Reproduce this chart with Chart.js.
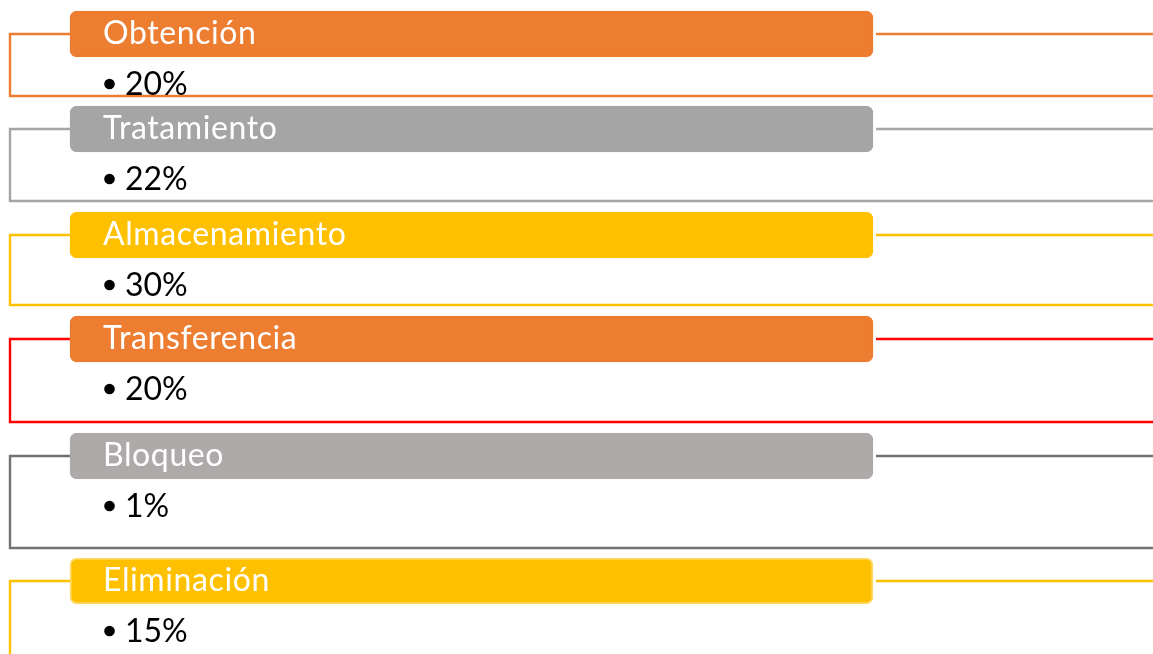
<!DOCTYPE html>
<html><head><meta charset="utf-8">
<script src="https://cdn.jsdelivr.net/npm/chart.js@4/dist/chart.umd.min.js"></script>
<style>html,body{margin:0;padding:0;background:#fff;overflow:hidden}#wrap{position:relative;width:1153px;height:654px}</style>
</head><body><div id="wrap"><canvas id="c"></canvas></div>
<script>
// Data
const categories = ["Obtención","Tratamiento","Almacenamiento","Transferencia","Bloqueo","Eliminación"];
const percentLabels = ["20%","22%","30%","20%","1%","15%"];
// Layout (diagram units = pixels of the 1153x654 stage)
const rowCenters = [34, 129, 235, 339, 456, 581];
const frameBottoms = [96, 201, 305, 422, 548, 680];
const boxSpan = [70, 873];
const boxFill = ["#ED7D31","#A5A5A5","#FFC000","#ED7D31","#AEAAAA","#FFC000"];
const boxBorder = ["#ED7D31","#A5A5A5","#FFC000","#ED7D31","#AEAAAA","#FFD966"];
const frameColors = ["#ED7D31","#A5A5A5","#FFC000","#FF0000","#767171","#FFC000"];

const framePlugin = {
  id:'frames',
  beforeDatasetsDraw(chart){
    const ctx = chart.ctx, xs = chart.scales.x, ys = chart.scales.y;
    ctx.save();
    ctx.lineWidth = 2.4;
    categories.forEach((c,i)=>{
      const yc = ys.getPixelForValue(rowCenters[i]);
      const yb = ys.getPixelForValue(frameBottoms[i]);
      const xl = xs.getPixelForValue(10), xr = xs.getPixelForValue(1153);
      const x0 = xs.getPixelForValue(boxSpan[0]), x1 = xs.getPixelForValue(boxSpan[1]);
      ctx.strokeStyle = frameColors[i];
      ctx.beginPath();
      ctx.moveTo(x0, yc); ctx.lineTo(xl, yc); ctx.lineTo(xl, yb); ctx.lineTo(xr+2, yb);
      ctx.moveTo(x1 + 3, yc); ctx.lineTo(xr+2, yc);
      ctx.stroke();
    });
    ctx.restore();
  },
  afterDatasetsDraw(chart){
    const ctx = chart.ctx, xs = chart.scales.x, ys = chart.scales.y;
    ctx.save();
    ctx.textBaseline = 'middle';
    ctx.textAlign = 'left';
    categories.forEach((c,i)=>{
      const yc = ys.getPixelForValue(rowCenters[i]);
      const tx = xs.getPixelForValue(103);
      ctx.font = '400 32px Lato, "Open Sans", sans-serif';
      ctx.letterSpacing = '0.6px';
      ctx.fillStyle = '#FFFFFF';
      ctx.fillText(c, tx, yc);
      ctx.letterSpacing = '0px';
      ctx.fillStyle = '#000000';
      ctx.fillText(percentLabels[i], xs.getPixelForValue(125), yc + 51);
      ctx.beginPath();
      ctx.arc(xs.getPixelForValue(109.5), yc + 50, 5.3, 0, Math.PI * 2);
      ctx.fill();
    });
    ctx.restore();
  }
};

new Chart(document.getElementById('c'), {
  type:'bar',
  data:{
    labels: categories,
    datasets:[{
      data: categories.map((c,i)=>({y: rowCenters[i], x: boxSpan})),
      backgroundColor: boxFill,
      borderColor: boxBorder,
      borderWidth: 2,
      borderSkipped: false,
      borderRadius: 7,
      barThickness: 46
    }]
  },
  options:{
    indexAxis:'y',
    responsive:true, maintainAspectRatio:false, animation:false,
    layout:{padding:0},
    plugins:{legend:{display:false}, tooltip:{enabled:false}},
    scales:{
      x:{type:'linear', min:0, max:1153, display:false, offset:false},
      y:{type:'linear', min:0, max:654, reverse:true, display:false, offset:false, grid:{offset:false}}
    }
  },
  plugins:[framePlugin]
});
</script></body></html>
